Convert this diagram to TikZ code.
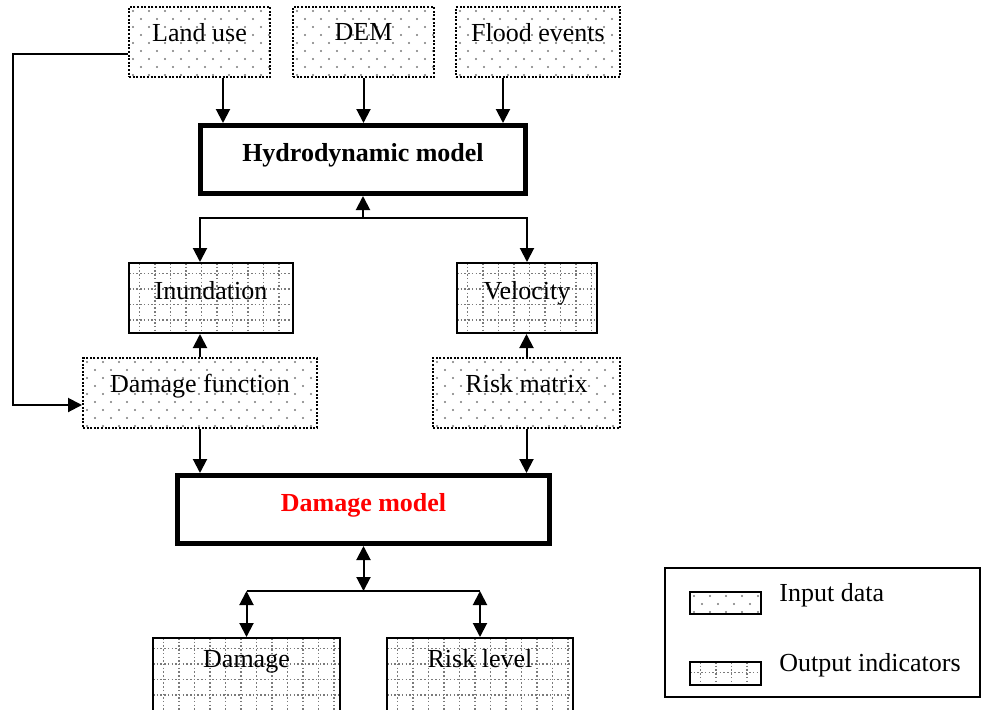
\documentclass[tikz,border=0pt]{standalone}
\usepackage{fontspec}
\setmainfont{Liberation Serif}
\usetikzlibrary{arrows.meta,positioning,calc}
\definecolor{dotgrey}{HTML}{7A7A7A}
\definecolor{hotred}{HTML}{FF0000}

% fill patterns drawn inside the boxes
\newcommand\dotpat{%
  \foreach \j in {0,...,9}{%
    \foreach \i in {0,...,15}{%
      \fill[dotgrey] ($(path picture bounding box.north west)+({\i*16+mod(\j,2)*8+4},{\j*8+4})$) circle (0.55pt);
    }}}
\newcommand\gridpat{%
  \foreach \k in {1,...,13}{%
    \draw[dotgrey, line width=0.75pt, dash pattern=on 0.75pt off 1.1pt]
      ($(path picture bounding box.north west)+({\k*15.5-5},0)$) -- ++(0,80);}
  \foreach \k in {1,...,5}{%
    \draw[dotgrey, line width=0.75pt, dash pattern=on 0.75pt off 1.1pt]
      ($(path picture bounding box.north west)+(0,{\k*15.5-5})$) -- ++(240,0);}}

\begin{document}
\begin{tikzpicture}[
  x=0.5pt, y=-0.5pt,
  font=\fontsize{13}{15}\selectfont,
  indata/.style={draw, line width=1pt, dash pattern=on 1pt off 0.8pt, minimum height=35pt, inner sep=0pt, text depth=10pt, path picture={\dotpat}},
  outind/.style={draw, line width=1pt, minimum height=35pt, inner sep=0pt, text depth=8pt, path picture={\gridpat}},
  model/.style={draw, line width=2.5pt, minimum height=34pt, inner sep=0pt, text depth=7pt, font=\fontsize{13}{15}\selectfont\bfseries},
  swatch/.style={draw, line width=1pt, minimum width=35.5pt, minimum height=11pt, inner sep=0pt},
  arr/.style={-{Triangle[length=7pt,width=7pt]}, line width=1pt},
  darr/.style={{Triangle[length=7pt,width=7pt]}-{Triangle[length=7pt,width=7pt]}, line width=1pt}
]
\useasboundingbox (0,0) rectangle (982,709);

% input data
\node[indata, minimum width=70.5pt] (landuse) at (199.5,42) {Land use};
\node[indata, minimum width=70.5pt] (dem) at (363.5,42) {DEM};
\node[indata, minimum width=82pt] (flood) at (538,42) {Flood events};

\node[model, minimum width=162.5pt] (hydro) at (363,159.5) {Hydrodynamic model};

% output of the hydrodynamic model
\node[outind, minimum width=82pt] (inund) at (211,298) {Inundation};
\node[outind, minimum width=70pt] (velocity) at (527,298) {Velocity};

\node[indata, minimum width=117pt] (dfun) at (200,393) {Damage function};
\node[indata, minimum width=93.5pt] (rmat) at (526.5,393) {Risk matrix};

\node[model, minimum width=186pt, text=hotred] (dmodel) at (363.5,509.5) {Damage model};

\node[outind, minimum width=93.5pt, minimum height=36.5pt, text depth=16pt] (damage) at (246.5,674.5) {Damage};
\node[outind, minimum width=93pt, minimum height=36.5pt, text depth=16pt] (risk) at (480,674.5) {Risk level};

% connectors
\draw[arr] ([xshift=11.75pt]landuse.south) -- ([xshift=11.75pt]landuse.south |- hydro.north);
\draw[arr] (dem.south) -- (dem.south |- hydro.north);
\draw[arr] ([xshift=-17.5pt]flood.south) -- ([xshift=-17.5pt]flood.south |- hydro.north);

\coordinate (hsplit) at (363,218);
\draw[arr] (hsplit) -- (hydro.south);
\draw[arr] (hsplit) -| ([xshift=-5.5pt]inund.north);
\draw[arr] (hsplit) -| (velocity.north);

\draw[arr] (dfun.north) -- (dfun.north |- inund.south);
\draw[arr] (rmat.north) -- (rmat.north |- velocity.south);
\draw[arr] (dfun.south) -- (dfun.south |- dmodel.north);
\draw[arr] (rmat.south) -- (rmat.south |- dmodel.north);

\coordinate (fbturn) at (13,230);
\draw[arr] ([yshift=-6pt]landuse.west) -| (fbturn) |- ([yshift=-6pt]dfun.west);

\coordinate (dsplit) at (363.5,591);
\draw[darr] (dmodel.south) -- (dsplit);
\draw[line width=1pt] (dsplit -| damage.north) -- (dsplit -| risk.north);
\draw[darr] (dsplit -| damage.north) -- (damage.north);
\draw[darr] (dsplit -| risk.north) -- (risk.north);

% legend
\node[draw, line width=0.6pt, minimum width=157.5pt, minimum height=64.5pt] (legend) at (822.5,632.5) {};
\node[swatch, path picture={\dotpat}] (swin) at (725.5,603) {};
\node[swatch, minimum height=11.5pt, path picture={\gridpat}] (swout) at (725.5,673.5) {};
\node[inner sep=0pt, right=8.5pt of swin, yshift=4pt] (lin) {Input data};
\node[inner sep=0pt, right=8.5pt of swout, yshift=4pt] (lout) {Output indicators};
\end{tikzpicture}
\end{document}
